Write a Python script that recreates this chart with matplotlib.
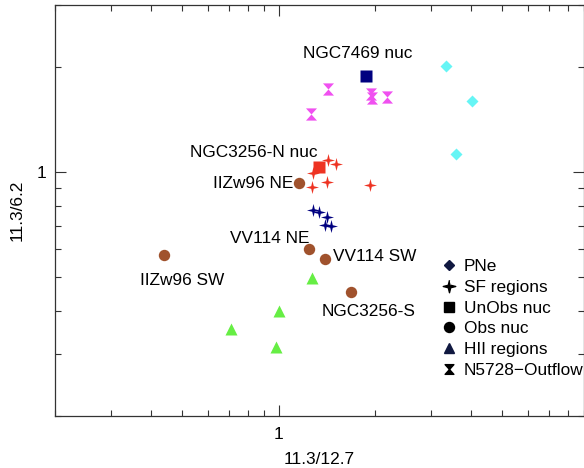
import numpy as np
import matplotlib.pyplot as plt
from matplotlib.path import Path
from matplotlib.lines import Line2D
from matplotlib.ticker import NullFormatter, FixedLocator, FixedFormatter

plt.rcParams['font.family'] = ['Liberation Sans', 'DejaVu Sans']

# PAH band ratios: 11.3/12.7 (x) vs 11.3/6.2 (y)
pne_x = [3.33, 4.02, 3.58]
pne_y = [2.006, 1.594, 1.124]

outflow_x = [1.426, 1.262, 1.943, 1.957, 2.18]
outflow_y = [1.724, 1.462, 1.668, 1.625, 1.636]

unobs_x = [1.875, 1.336]
unobs_y = [1.878, 1.031]
unobs_col = ['#000080', '#ee3322']

sf_red_x = [1.426, 1.51, 1.28, 1.416, 1.271, 1.929]
sf_red_y = [1.080, 1.052, 0.991, 0.934, 0.904, 0.916]

sf_navy_x = [1.28, 1.336, 1.416, 1.395, 1.457]
sf_navy_y = [0.777, 0.767, 0.742, 0.704, 0.699]

obs_x = [1.157, 0.438, 1.243, 1.395, 1.683]
obs_y = [0.928, 0.578, 0.601, 0.563, 0.453]

hii_x = [1.271, 1.002, 0.710, 0.981]
hii_y = [0.496, 0.399, 0.355, 0.315]

# labelled nuclei: name, (x, y), offset in pixels, alignment
names = ['NGC7469 nuc', 'NGC3256-N nuc', 'IIZw96 NE', 'VV114 NE',
         'VV114 SW', 'IIZw96 SW', 'NGC3256-S']
name_xy = [(1.875, 1.878), (1.336, 1.031), (1.157, 0.928), (1.243, 0.601),
           (1.395, 0.563), (0.438, 0.578), (1.683, 0.453)]
name_off = [(-8, 23), (-65, 15), (-6, 0), (-39, 11), (8, 2), (18, -26), (18, -20)]
name_ha = ['center', 'center', 'right', 'center', 'left', 'center', 'center']

# custom marker shapes
ang = np.deg2rad(90 + 45 * np.arange(8))
rad = np.where(np.arange(8) % 2 == 0, 1.0, 0.28)
star4 = Path(np.column_stack([rad * np.cos(ang), rad * np.sin(ang)]))
hourglass = Path([(-0.9, 1), (0.9, 1), (0, 0), (0.9, -1), (-0.9, -1), (0, 0), (-0.9, 1)],
                 [1, 2, 2, 2, 2, 2, 79])

fig = plt.figure(figsize=(5.84, 4.68), dpi=100)
ax = fig.add_axes([55 / 584, 52 / 468, 529 / 584, 411 / 468])
ax.set_xscale('log')
ax.set_yscale('log')
ax.set_xlim(0.2, 9.0)
ax.set_ylim(0.2, 3.0)

ax.plot(pne_x, pne_y, 'D', ms=6.2, color='#66f5f5', mec='none')
ax.plot(outflow_x, outflow_y, marker=hourglass, ls='none', ms=8.8, color='#f050f0', mec='none')
for x, y, c in zip(unobs_x, unobs_y, unobs_col):
    ax.plot(x, y, 's', ms=8.4, color=c, mec='none')
ax.plot(sf_red_x, sf_red_y, marker=star4, ls='none', ms=9.4, color='#ee3322', mec='none')
ax.plot(sf_navy_x, sf_navy_y, marker=star4, ls='none', ms=9.4, color='#000080', mec='none')
ax.plot(obs_x, obs_y, 'o', ms=8.2, color='#a0522d', mec='none')
ax.plot(hii_x, hii_y, '^', ms=8.6, color='#66ee44', mec='none')

for name, xy, off, ha in zip(names, name_xy, name_off, name_ha):
    ax.annotate(name, xy=xy, xytext=off, textcoords='offset pixels',
                ha=ha, va='center', fontsize=12.4)

# ticks: only the decade "1" is labelled
for axis in (ax.xaxis, ax.yaxis):
    axis.set_major_locator(FixedLocator([1]))
    axis.set_major_formatter(FixedFormatter(['1']))
    axis.set_minor_formatter(NullFormatter())
ax.tick_params(which='both', direction='in', top=True, right=True,
               width=0.8, color='#333333', labelsize=12.4)
ax.tick_params(which='major', length=8)
ax.tick_params(which='minor', length=4.3)
ax.tick_params(axis='x', which='major', pad=8)
ax.tick_params(axis='y', which='major', pad=6)
for sp in ax.spines.values():
    sp.set_color('#333333')
    sp.set_linewidth(0.9)

ax.set_xlabel('11.3/12.7', fontsize=12.4, labelpad=7)
ax.set_ylabel('11.3/6.2', fontsize=12.4, labelpad=9)

handles = [
    Line2D([], [], marker='D', ls='none', ms=5.0, color='#101840'),
    Line2D([], [], marker=star4, ls='none', ms=9.0, color='black'),
    Line2D([], [], marker='s', ms=6.5, ls='none', color='black'),
    Line2D([], [], marker='o', ms=7.2, ls='none', color='black'),
    Line2D([], [], marker='^', ms=7.2, ls='none', color='#101840'),
    Line2D([], [], marker=hourglass, ls='none', ms=7.0, color='black'),
]
labels = ['PNe', 'SF regions', 'UnObs nuc', 'Obs nuc', 'HII regions', 'N5728\u2212Outflow']
ax.legend(handles, labels, loc='upper left', bbox_to_anchor=(0.728, 0.382),
          frameon=False, fontsize=12.4, handlelength=1.0, handletextpad=0.37,
          labelspacing=0.33, borderpad=0, borderaxespad=0)

fig.savefig('out.png', dpi=100)
